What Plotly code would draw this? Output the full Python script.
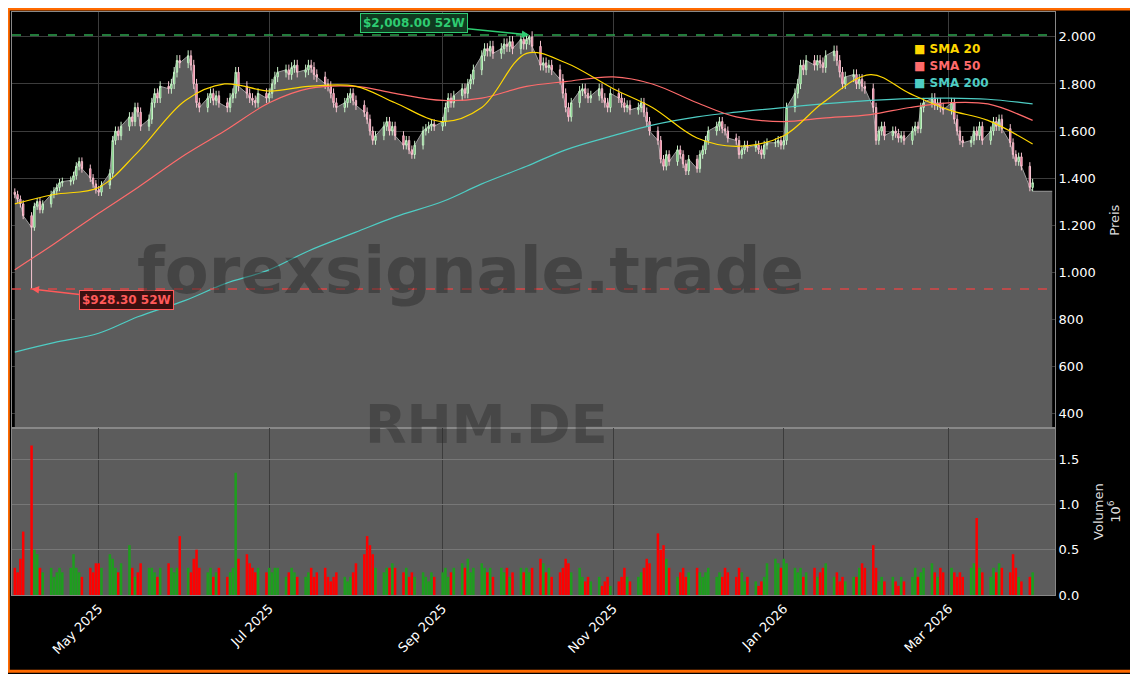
import pandas as pd
import plotly.graph_objects as go
from plotly.subplots import make_subplots

# daily closes per month
close_apr = [1330, 1310, 1290, 1240, 1190, 1280, 1300, 1265, 1290, 1330, 1345, 1360, 1380, 1385, 1390, 1410, 1450, 1470, 1440, 1400, 1375, 1350]
close_may = [1340, 1370, 1420, 1560, 1600, 1580, 1620, 1660, 1640, 1700, 1680, 1620, 1650, 1720, 1760, 1740, 1790, 1780, 1800, 1850, 1900, 1890]
close_jun = [1920, 1880, 1800, 1720, 1700, 1740, 1760, 1730, 1750, 1720, 1700, 1740, 1760, 1850, 1790, 1760, 1740, 1730, 1720, 1760, 1740]
close_jul = [1760, 1800, 1830, 1850, 1860, 1840, 1870, 1880, 1850, 1860, 1880, 1870, 1840, 1830, 1800, 1790, 1760, 1720, 1700, 1720, 1740, 1760, 1730]
close_aug = [1710, 1680, 1650, 1600, 1560, 1580, 1620, 1640, 1600, 1620, 1580, 1540, 1560, 1520, 1500, 1540, 1600, 1610, 1620, 1630, 1620]
close_sep = [1640, 1700, 1740, 1720, 1750, 1780, 1760, 1800, 1820, 1860, 1920, 1950, 1940, 1960, 1930, 1950, 1970, 1960, 1980, 1950, 1990, 1970]
close_oct = [1990, 2000, 1960, 1880, 1890, 1870, 1880, 1860, 1820, 1760, 1700, 1660, 1720, 1770, 1780, 1760, 1740, 1750, 1780, 1740, 1720, 1700, 1760]
close_nov = [1740, 1720, 1700, 1710, 1690, 1700, 1720, 1680, 1640, 1600, 1560, 1480, 1450, 1500, 1470, 1520, 1500, 1460, 1430, 1480]
close_dec = [1440, 1500, 1520, 1560, 1600, 1620, 1640, 1610, 1600, 1570, 1560, 1500, 1520, 1540, 1530, 1540, 1520, 1500, 1540, 1550, 1550, 1560, 1540]
close_jan = [1560, 1700, 1760, 1800, 1880, 1860, 1900, 1880, 1900, 1890, 1870, 1920, 1940, 1900, 1850, 1800, 1830, 1840, 1800, 1820, 1790, 1780]
close_feb = [1700, 1560, 1600, 1620, 1580, 1600, 1590, 1570, 1580, 1560, 1600, 1620, 1610, 1700, 1720, 1740, 1710, 1720, 1700, 1690]
close_mar = [1720, 1650, 1600, 1560, 1550, 1560, 1600, 1580, 1620, 1560, 1600, 1640, 1620, 1650, 1610, 1550, 1500, 1470, 1490, 1450, 1360, 1380]

# daily volume in millions
vol_apr = [.3, .25, .4, .7, 1.65, .5, .45, .3, .25, .3, .2, .25, .3, .25, .3, .45, .3, .25, .2, .3, .25, .35]
vol_may = [.35, .3, .45, .4, .3, .25, .35, .55, .3, .2, .25, .35, .3, .3, .25, .2, .3, .35, .3, .25, .3, .65]
vol_jun = [.3, .25, .4, .5, .3, .25, .3, .2, .25, .3, .2, .25, .3, 1.35, .4, .45, .35, .3, .25, .3, .25]
vol_jul = [.3, .25, .3, .3, .2, .25, .3, .25, .2, .2, .25, .3, .2, .25, .3, .2, .15, .2, .25, .2, .15, .2, .25]
vol_aug = [.35, .45, .65, .55, .45, .3, .25, .3, .3, .35, .3, .25, .3, .2, .25, .2, .25, .2, .15, .25, .2]
vol_sep = [.25, .3, .2, .25, .3, .35, .3, .4, .25, .3, .35, .3, .25, .3, .2, .3, .25, .3, .2, .25, .3, .25]
vol_oct = [.3, .25, .3, .4, .35, .25, .3, .2, .25, .3, .4, .35, .25, .3, .2, .15, .2, .15, .2, .1, .15, .2, .1]
vol_nov = [.15, .2, .3, .2, .15, .2, .25, .3, .4, .35, .68, .5, .55, .4, .3, .2, .25, .3, .2, .25]
vol_dec = [.3, .25, .2, .25, .3, .2, .25, .2, .3, .25, .2, .3, .25, .15, .2, .15, .1, .15, .2, .35, .4, .35, .3]
vol_jan = [.4, .35, .3, .25, .3, .2, .25, .3, .2, .25, .3, .35, .2, .25, .15, .2, .15, .2, .2, .3, .35, .3]
vol_feb = [.55, .3, .15, .2, .15, .2, .15, .1, .2, .15, .2, .3, .2, .25, .3, .35, .25, .2, .3, .25]
vol_mar = [.3, .25, .2, .25, .2, .3, .35, .85, .3, .25, .2, .3, .25, .35, .3, .25, .45, .3, .2, .15, .2, .25]

# moving averages read at sample dates
sma_dates = ["2025-04-01", "2025-04-15", "2025-05-01", "2025-05-15", "2025-06-01", "2025-06-15", "2025-07-01",
             "2025-07-15", "2025-08-01", "2025-08-15", "2025-09-01", "2025-09-15", "2025-10-01", "2025-10-15",
             "2025-11-01", "2025-11-15", "2025-12-01", "2025-12-15", "2026-01-01", "2026-01-15", "2026-02-01",
             "2026-02-15", "2026-03-01", "2026-03-15", "2026-03-31"]
sma20 = [1290, 1330, 1360, 1510, 1730, 1800, 1770, 1790, 1790, 1720, 1640, 1700, 1930, 1890, 1780, 1700, 1570,
         1535, 1580, 1720, 1840, 1760, 1690, 1645, 1545]
sma50 = [1010, 1120, 1250, 1360, 1500, 1600, 1720, 1780, 1790, 1760, 1730, 1740, 1790, 1810, 1830, 1800, 1720,
         1660, 1640, 1655, 1670, 1700, 1720, 1715, 1645]
sma200 = [660, 700, 740, 810, 880, 950, 1010, 1090, 1170, 1235, 1300, 1375, 1450, 1520, 1580, 1625, 1660, 1680,
          1700, 1715, 1730, 1738, 1740, 1735, 1715]

high_52w = 2008.00
low_52w = 928.30
high_date = "2025-10-02"
low_date = "2025-04-07"

closes = (close_apr + close_may + close_jun + close_jul + close_aug + close_sep + close_oct + close_nov
          + close_dec + close_jan + close_feb + close_mar)
volumes = (vol_apr + vol_may + vol_jun + vol_jul + vol_aug + vol_sep + vol_oct + vol_nov
           + vol_dec + vol_jan + vol_feb + vol_mar)
dates = pd.bdate_range("2025-04-01", "2026-03-31")

df = pd.DataFrame({"Close": closes, "Volume": volumes}, index=dates)
df["Open"] = df["Close"].shift(1).fillna(1340)
df["High"] = df[["Open", "Close"]].max(axis=1) * 1.012
df["Low"] = df[["Open", "Close"]].min(axis=1) * 0.988
df.loc[low_date, "Low"] = low_52w
df.loc[high_date, "High"] = high_52w

PRICE_RANGE = [336, 2106]

fig = make_subplots(rows=2, cols=1, shared_xaxes=True, vertical_spacing=0,
                    row_heights=[0.714, 0.286])

# grey backdrop for the volume panel
fig.add_shape(type="rect", xref="x2 domain", yref="y2 domain", x0=0, x1=1, y0=0, y1=1,
              fillcolor="#5c5c5c", line_width=0, layer="below")

# grey area under the price, on the base axis so candles sit on top
fill_x = list(df.index) + [df.index[-1] + pd.Timedelta(days=7)]
fill_y = list(df["Close"]) + [df["Low"].iloc[-1]]
fill_y[-2] = df["Low"].iloc[-1]
fig.add_trace(go.Scatter(x=fill_x, y=fill_y, mode="lines", line=dict(color="#9a9a9a", width=1),
                         fill="tozeroy", fillcolor="#5c5c5c", hoverinfo="skip"), row=1, col=1)

fig.add_trace(go.Candlestick(x=df.index, open=df["Open"], high=df["High"], low=df["Low"], close=df["Close"],
                             increasing=dict(line=dict(color="#c8f0c8", width=1), fillcolor="#3cb54a"),
                             decreasing=dict(line=dict(color="#f5c4d0", width=1), fillcolor="#f0507a"),
                             whiskerwidth=0, xaxis="x", yaxis="y3"))

for vals, col in [(sma200, "#4ecdc4"), (sma50, "#ff6b6b"), (sma20, "#ffd700")]:
    fig.add_trace(go.Scatter(x=pd.to_datetime(sma_dates), y=vals, mode="lines", xaxis="x", yaxis="y3",
                             line=dict(color=col, width=1.2, shape="spline")))

vcolors = ["#1e9e1e" if c >= o else "#ff0000" for c, o in zip(df["Close"], df["Open"])]
fig.add_trace(go.Bar(x=df.index, y=df["Volume"], marker=dict(color=vcolors, line_width=0)), row=2, col=1)

fig.add_hline(y=high_52w, line=dict(color="#2ea44f", dash="dash", width=1.5), row=1, col=1)
fig.add_hline(y=low_52w, line=dict(color="#d94545", dash="dash", width=1.5), row=1, col=1)

fig.add_annotation(x=high_date, y=high_52w, ax=-115, ay=-12, text="<b>$2,008.00 52W</b>",
                   font=dict(color="#2ecc71", size=12), bgcolor="#103a20", bordercolor="#2ecc71",
                   borderwidth=1, borderpad=2, arrowcolor="#2ecc71", arrowhead=2, arrowwidth=1.5,
                   row=1, col=1)
fig.add_annotation(x=low_date, y=low_52w, ax=95, ay=11, text="<b>$928.30 52W</b>",
                   font=dict(color="#ff5a5a", size=12), bgcolor="#3a1010", bordercolor="#ff5a5a",
                   borderwidth=1, borderpad=2, arrowcolor="#ff5a5a", arrowhead=2, arrowwidth=1.5,
                   row=1, col=1)

for i, (name, col) in enumerate([("SMA 20", "#ffd700"), ("SMA 50", "#ff6b6b"), ("SMA 200", "#4ecdc4")]):
    fig.add_annotation(xref="paper", yref="paper", x=0.863, y=0.952 - i * 0.029, xanchor="left",
                       text=f"<b>■ {name}</b>", showarrow=False, font=dict(color=col, size=12))

fig.add_annotation(xref="paper", yref="paper", x=0.44, y=0.555, text="<b>forexsignale.trade</b>",
                   showarrow=False, font=dict(color="rgba(40,40,40,0.45)", size=64, family="DejaVu Sans"))
fig.add_annotation(xref="paper", yref="paper", x=0.455, y=0.235, text="<b>RHM.DE</b>",
                   showarrow=False, font=dict(color="rgba(40,40,40,0.4)", size=54, family="DejaVu Sans"))

price_ticks = [400, 600, 800, 1000, 1200, 1400, 1600, 1800, 2000]
price_text = ["400", "600", "800", "1.000", "1.200", "1.400", "1.600", "1.800", "2.000"]
month_ticks = ["2025-05-01", "2025-07-01", "2025-09-01", "2025-11-01", "2026-01-01", "2026-03-01"]
month_text = ["May 2025", "Jul 2025", "Sep 2025", "Nov 2025", "Jan 2026", "Mar 2026"]

grid = dict(showgrid=True, gridcolor="#3c3c3c", linecolor="#888", mirror=True, showline=True,
            tickfont=dict(color="white", size=13), zeroline=False)
fig.update_xaxes(**grid, range=["2025-03-31", "2026-04-08"], rangeslider_visible=False)
fig.update_xaxes(tickvals=month_ticks, ticktext=month_text, tickangle=-45, row=2, col=1)
fig.update_yaxes(**grid, side="right")
fig.update_yaxes(range=PRICE_RANGE, tickvals=price_ticks, ticktext=price_text,
                 title=dict(text="Preis", font=dict(color="#ddd", size=13)), row=1, col=1)
fig.update_yaxes(range=[0, 1.84], tickvals=[0, 0.5, 1, 1.5], ticktext=["0.0", "0.5", "1.0", "1.5"],
                 gridcolor="#777", title=dict(text="Volumen<br>10<sup>6</sup>", font=dict(color="#ddd", size=13)),
                 row=2, col=1)

# orange frame around the whole chart
fig.add_shape(type="rect", xref="paper", yref="paper", x0=-0.0035, x1=1.0775, y0=-0.131, y1=1.005,
              line=dict(color="#ff6a00", width=3))

fig.update_layout(width=1130, height=666, paper_bgcolor="black", plot_bgcolor="black", showlegend=False,
                  margin=dict(l=4, r=83, t=4, b=79), bargap=0.1,
                  font=dict(family="DejaVu Sans", color="white"),
                  yaxis3=dict(overlaying="y", range=PRICE_RANGE, visible=False, anchor="x"))

fig.write_html("out.html")
